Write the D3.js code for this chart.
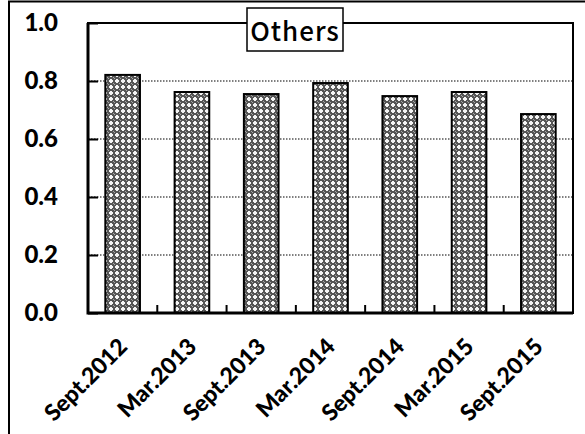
<!DOCTYPE html>
<html>
<head>
<meta charset="utf-8">
<script src="https://cdn.jsdelivr.net/npm/d3@7"></script>
<style>
  body { margin: 0; background: #fff; }
  svg text { font-family: Lato, "Open Sans", sans-serif; font-weight: 900; fill: #000; }
</style>
</head>
<body>
<svg id="chart" width="585" height="434"></svg>
<script>
// data
let periods = ["Sept.2012", "Mar.2013", "Sept.2013", "Mar.2014", "Sept.2014", "Mar.2015", "Sept.2015"];
let shares = [0.821, 0.762, 0.755, 0.793, 0.748, 0.762, 0.686];
let yTicks = [0, 0.2, 0.4, 0.6, 0.8, 1.0];
let title = "Others";

let svg = d3.select("#chart");
let margin = {left: 88, top: 23, right: 12, bottom: 121};
let W = 585, H = 434;

let x = d3.scaleBand().domain(periods)
    .range([margin.left, W - margin.right]).paddingInner(0.5).paddingOuter(0.25);
let y = d3.scaleLinear().domain([0, 1]).range([H - margin.bottom, margin.top]);

// hatch pattern for the bars
let defs = svg.append("defs");
let pat = defs.append("pattern")
    .attr("id", "hatch").attr("patternUnits", "userSpaceOnUse")
    .attr("width", 6).attr("height", 6);
pat.append("rect").attr("width", 6).attr("height", 6).attr("fill", "#555");
pat.append("path").attr("d", "M2,1h2v4h-2z M1,2h4v2h-4z").attr("fill", "#f4f4f4");
pat.append("path").attr("d", "M5,5h1v1h-1z M0,0h1v1h-1z").attr("fill", "#a8a8a8");

// outer frame (only left/top visible)
svg.append("path").attr("d", "M9,434V1.5H585")
    .attr("fill", "none").attr("stroke", "#000").attr("stroke-width", 2);

// grid lines (dotted)
svg.append("g").selectAll("line")
    .data(yTicks.filter(d => d > 0 && d < 1))
    .enter().append("line")
    .attr("x1", margin.left).attr("x2", W - margin.right)
    .attr("y1", d => y(d)).attr("y2", d => y(d))
    .attr("stroke", "#000").attr("stroke-width", 1.2).attr("stroke-dasharray", "1.5,1.5");

// bars
svg.append("g").selectAll("rect")
    .data(periods)
    .enter().append("rect")
    .attr("x", d => x(d))
    .attr("y", (d, i) => y(shares[i]))
    .attr("width", x.bandwidth())
    .attr("height", (d, i) => y(0) - y(shares[i]))
    .attr("fill", "url(#hatch)")
    .attr("stroke", "#000").attr("stroke-width", 2);

// plot frame
svg.append("rect")
    .attr("x", margin.left).attr("y", margin.top)
    .attr("width", W - margin.right - margin.left)
    .attr("height", y(0) - margin.top)
    .attr("fill", "none").attr("stroke", "#000").attr("stroke-width", 2);
svg.append("path")
    .attr("d", `M${margin.left},${margin.top}V${y(0)}H${W - margin.right}`)
    .attr("fill", "none").attr("stroke", "#000").attr("stroke-width", 3);

// y axis (inner ticks)
let yAxis = svg.append("g")
    .attr("transform", `translate(${margin.left},0)`)
    .call(d3.axisRight(y).tickValues(yTicks).tickSize(10).tickFormat(""));
yAxis.select(".domain").remove();
yAxis.selectAll("line").attr("stroke-width", 2);

svg.append("g").selectAll("text")
    .data(yTicks)
    .enter().append("text")
    .attr("x", 58).attr("y", d => y(d) + 8)
    .attr("text-anchor", "end")
    .attr("font-size", 24)
    .text(d3.format(".1f"));

// x ticks between categories, pointing up
let step = x.step();
svg.append("g").selectAll("line")
    .data(d3.range(1, periods.length))
    .enter().append("line")
    .attr("x1", d => margin.left + d * step).attr("x2", d => margin.left + d * step)
    .attr("y1", y(0)).attr("y2", y(0) - 8)
    .attr("stroke", "#000").attr("stroke-width", 2);

// x labels rotated
svg.append("g").selectAll("text")
    .data(periods)
    .enter().append("text")
    .attr("transform", d => `translate(${x(d) + x.bandwidth() / 2 + 6},${y(0) + 35}) rotate(-45)`)
    .attr("text-anchor", "end")
    .attr("font-size", 23)
    .text(d => d);

// title box
svg.append("rect")
    .attr("x", 247).attr("y", 8).attr("width", 96).attr("height", 43)
    .attr("fill", "#fff").attr("stroke", "#000").attr("stroke-width", 1.5);
svg.append("text")
    .attr("x", 295).attr("y", 41)
    .attr("text-anchor", "middle")
    .attr("font-size", 26)
    .attr("letter-spacing", 1)
    .style("font-family", "'Noto Sans CJK JP', sans-serif")
    .style("font-weight", 500)
    .text(title);
</script>
</body>
</html>
